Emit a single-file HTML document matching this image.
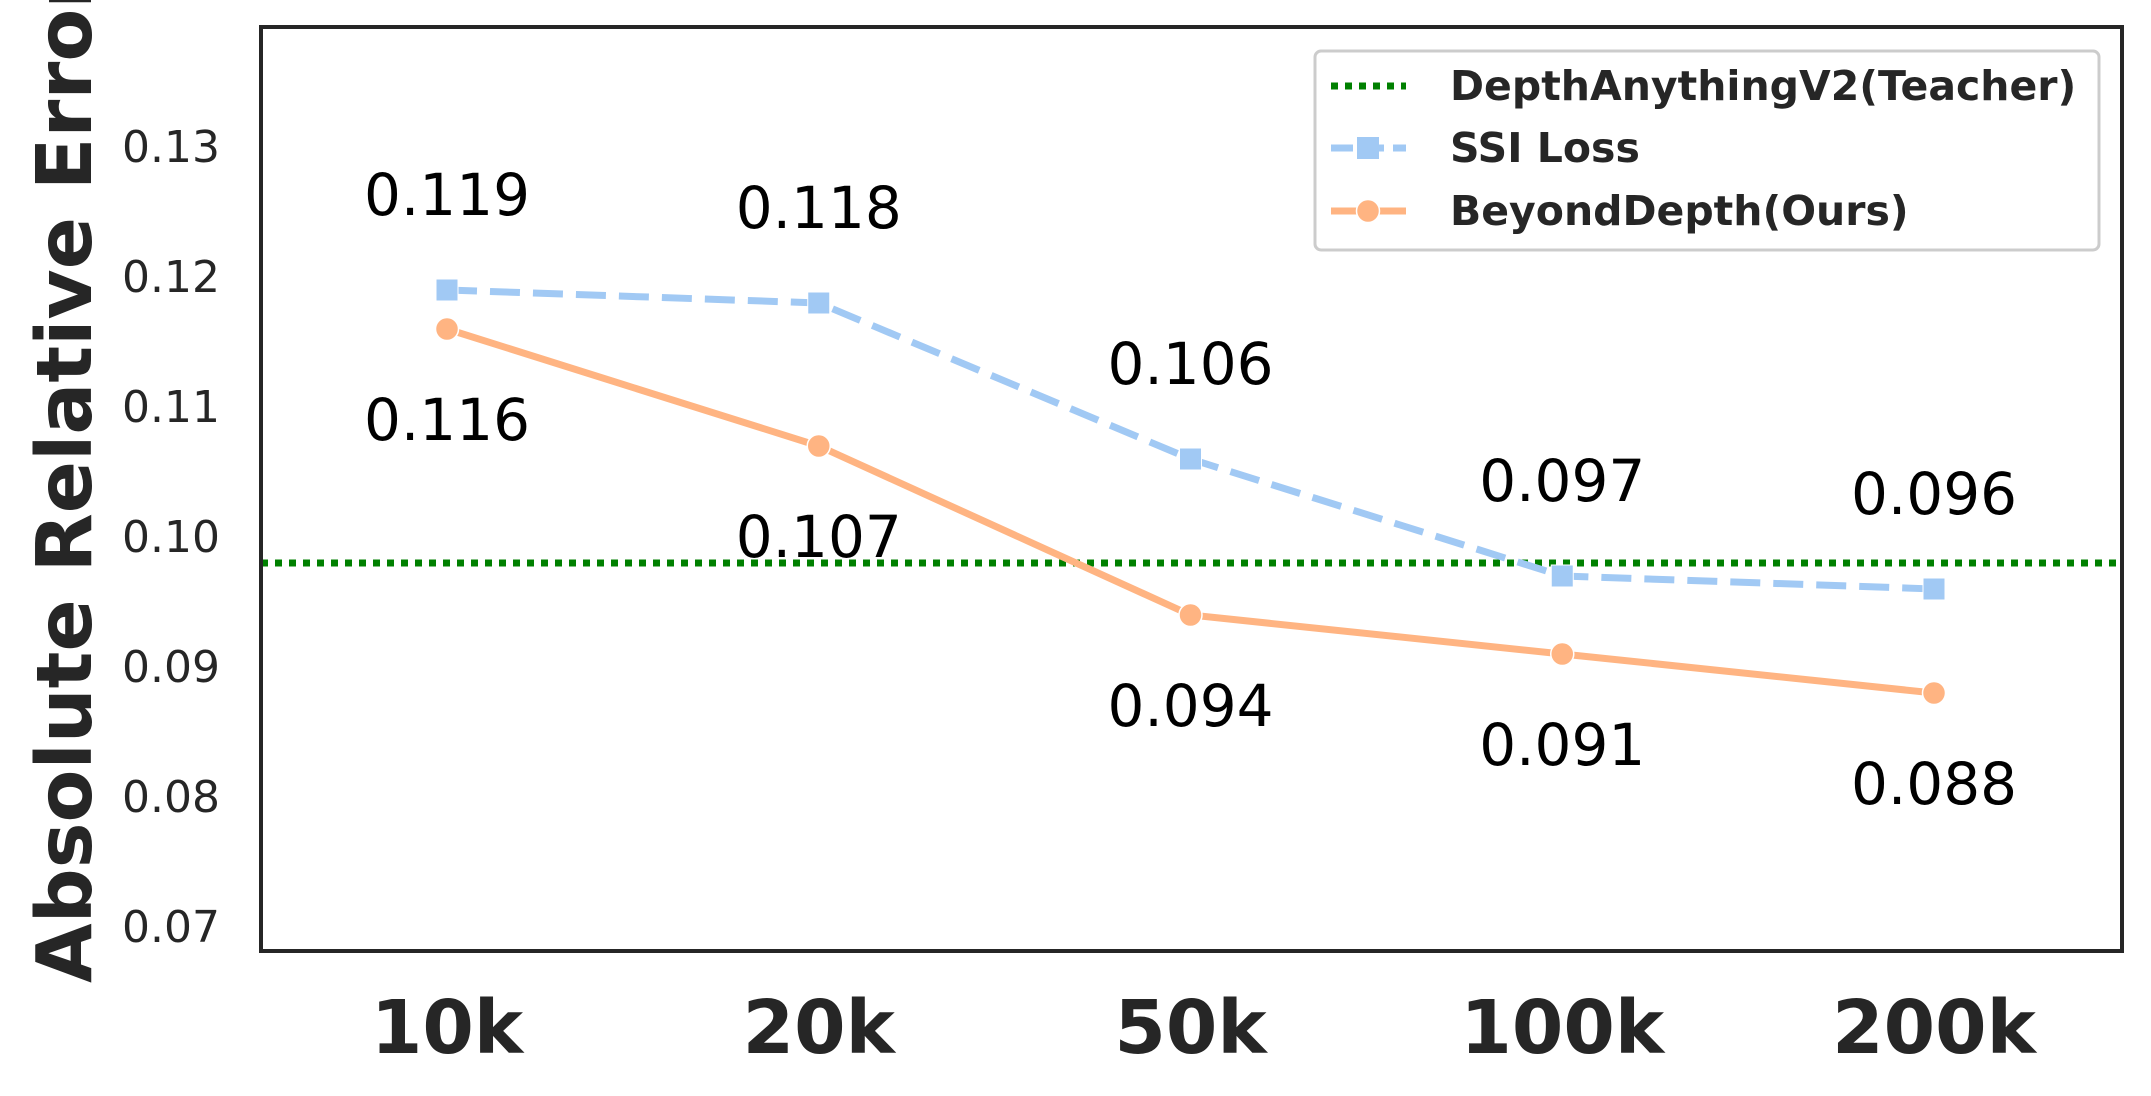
<!DOCTYPE html>
<html><head><meta charset="utf-8"><style>body{margin:0;background:#fff}svg{display:block}text{font-family:"DejaVu Sans","Liberation Sans",sans-serif}</style></head>
<body>
<svg id="c" width="2151" height="1096" viewBox="0 0 2151 1096" xmlns="http://www.w3.org/2000/svg"></svg>
<script>
const categories=["10k","20k","50k","100k","200k"];
const ssiValues=[0.119,0.118,0.106,0.097,0.096];
const oursValues=[0.116,0.107,0.094,0.091,0.088];
const teacherValue=0.098;
const yTicks=[0.07,0.08,0.09,0.10,0.11,0.12,0.13];
const yTickLabels=["0.07","0.08","0.09","0.10","0.11","0.12","0.13"];
const ssiLabels=["0.119","0.118","0.106","0.097","0.096"];
const oursLabels=["0.116","0.107","0.094","0.091","0.088"];

const svg=document.getElementById('c');const NS="http://www.w3.org/2000/svg";
const L=261,R=2122,T=27,B=951;
function x(i){return 447+i*(1934-447)/4;}
function y(v){return 147+(0.13-v)*13000;}
function el(t,a,p){const e=document.createElementNS(NS,t);for(const k in a)e.setAttribute(k,a[k]);(p||svg).appendChild(e);return e;}
function txt(s,a){const e=el('text',a);e.textContent=s;return e;}

yTicks.forEach((v,i)=>{const t=txt(yTickLabels[i],{x:220,y:y(v)+15,'text-anchor':'end','font-size':44,fill:'#262626'});
});
categories.forEach((c,i)=>{const t=txt(c,{x:x(i),y:1053,'text-anchor':'middle','font-size':74,'font-weight':'bold',fill:'#262626'});
});
const yt=txt("Absolute Relative Error",{x:0,y:0,transform:'translate(91,983) rotate(-90)','font-size':77,'font-weight':'bold',fill:'#262626'});


const tl=el('line',{x1:L,x2:R,y1:y(teacherValue),y2:y(teacherValue),stroke:'#008000','stroke-width':7,'stroke-dasharray':'7 7'});


const sp=el('polyline',{points:ssiValues.map((v,i)=>x(i)+','+y(v)).join(' '),fill:'none',stroke:'#a1c9f4','stroke-width':7,'stroke-dasharray':'30 13'});

ssiValues.forEach((v,i)=>{const m=el('rect',{x:x(i)-11,y:y(v)-11,width:22,height:22,fill:'#a1c9f4',stroke:'#fff','stroke-width':1});

const t=txt(ssiLabels[i],{x:x(i),y:y(v)-75,'text-anchor':'middle','font-size':58,fill:'#000'});
});

const op=el('polyline',{points:oursValues.map((v,i)=>x(i)+','+y(v)).join(' '),fill:'none',stroke:'#ffb482','stroke-width':7});

oursValues.forEach((v,i)=>{const m=el('circle',{cx:x(i),cy:y(v),r:11.5,fill:'#ffb482',stroke:'#fff','stroke-width':1.5});

const t=txt(oursLabels[i],{x:x(i),y:y(v)+111,'text-anchor':'middle','font-size':58,fill:'#000'});
});

const fr=el('rect',{x:L,y:T,width:R-L,height:B-T,fill:'none',stroke:'#262626','stroke-width':4});


const lg=el('g',{});
el('rect',{x:1315,y:51,width:784,height:199,rx:6,fill:'#fff','fill-opacity':0.85,stroke:'#cccccc','stroke-width':3},lg);
const rows=[86,148,211];
el('line',{x1:1331,x2:1406,y1:rows[0],y2:rows[0],stroke:'#008000','stroke-width':7,'stroke-dasharray':'7 7'},lg);
el('line',{x1:1331,x2:1406,y1:rows[1],y2:rows[1],stroke:'#a1c9f4','stroke-width':7,'stroke-dasharray':'22 9'},lg);
el('rect',{x:1357,y:rows[1]-11,width:22,height:22,fill:'#a1c9f4'},lg);
el('line',{x1:1331,x2:1406,y1:rows[2],y2:rows[2],stroke:'#ffb482','stroke-width':7},lg);
el('circle',{cx:1368,cy:rows[2],r:11.5,fill:'#ffb482',stroke:'#fff','stroke-width':1.5},lg);
["DepthAnythingV2(Teacher)","SSI Loss","BeyondDepth(Ours)"].forEach((s,i)=>{const t=el('text',{x:1450,y:rows[i]+14,'font-size':41,'font-weight':'bold',fill:'#262626'},lg);t.textContent=s;
});
</script>
</body></html>
